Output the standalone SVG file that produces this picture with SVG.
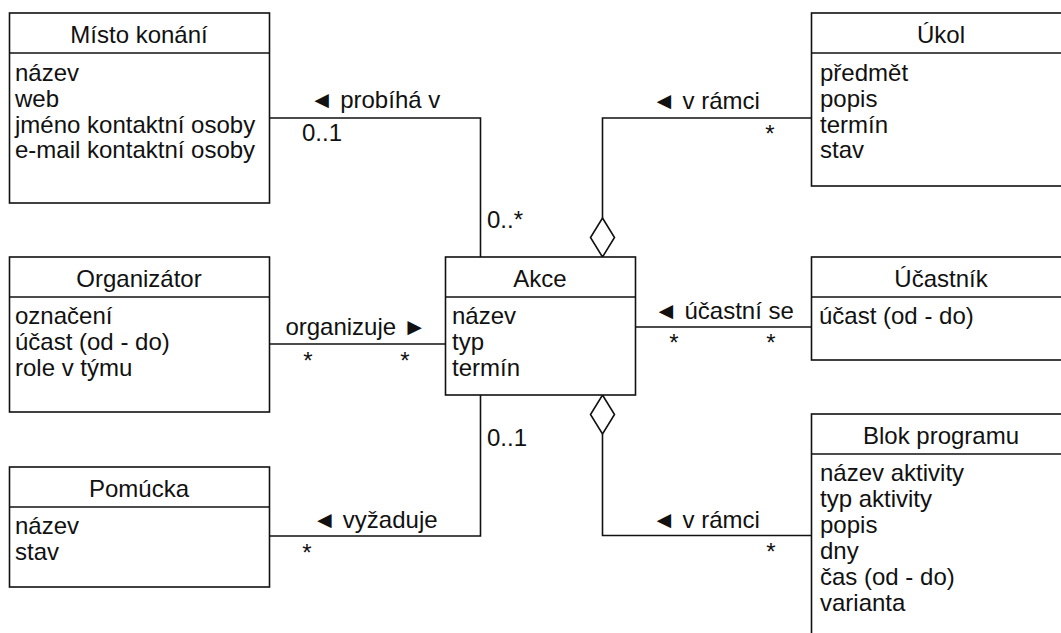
<svg xmlns="http://www.w3.org/2000/svg" width="1061" height="633" viewBox="0 0 1061 633">
<style>
text{font-family:"Liberation Sans",Arial,sans-serif;font-size:24px;fill:#111}
.t{text-anchor:middle}
.box{fill:#fff;stroke:#111;stroke-width:1.6}
.div{stroke:#111;stroke-width:1.6}
.c{fill:none;stroke:#111;stroke-width:1.6}
.dia{fill:#fff;stroke:#111;stroke-width:1.6}
</style>
<g id="connectors">
<path class="c" d="M269.5,118 H480.5 V257"/>
<path class="c" d="M811.5,118 H602.5 V218"/>
<path class="dia" d="M602.5,218 L614.5,237.5 L602.5,257 L590.5,237.5 Z"/>
<path class="c" d="M269.5,344 H445.5"/>
<path class="c" d="M635.5,327 H811.5"/>
<path class="c" d="M602.5,434 V535.5 H811.5"/>
<path class="dia" d="M602.5,395 L614.5,414.5 L602.5,434 L590.5,414.5 Z"/>
<path class="c" d="M269.5,536 H480.5 V395"/>
<text class="t" x="375" y="108">◄ probíhá v</text>
<text x="302" y="141">0..1</text>
<text x="487" y="228">0..*</text>
<text class="t" x="706" y="109">◄ v rámci</text>
<text class="t" x="770" y="142">*</text>
<text class="t" x="356" y="335">organizuje ►</text>
<text class="t" x="308" y="369">*</text>
<text class="t" x="405" y="369">*</text>
<text class="t" x="724" y="319">◄ účastní se</text>
<text class="t" x="674" y="351">*</text>
<text class="t" x="771" y="351">*</text>
<text class="t" x="706" y="528">◄ v rámci</text>
<text class="t" x="771" y="560">*</text>
<text class="t" x="375" y="528">◄ vyžaduje</text>
<text class="t" x="307" y="561">*</text>
<text x="487" y="446">0..1</text>
</g>
<g id="misto">
<rect class="box" x="9.5" y="13" width="260" height="190"/>
<line class="div" x1="9.5" y1="53" x2="269.5" y2="53"/>
<text class="t" x="139" y="43">Místo konání</text>
<text x="15" y="81">název</text>
<text x="15" y="107">web</text>
<text x="15" y="132.5">jméno kontaktní osoby</text>
<text x="15" y="158">e-mail kontaktní osoby</text>
</g>
<g id="ukol">
<rect class="box" x="811.5" y="13" width="260" height="173"/>
<line class="div" x1="811.5" y1="53" x2="1071.5" y2="53"/>
<text class="t" x="941" y="43">Úkol</text>
<text x="820" y="81">předmět</text>
<text x="820" y="107">popis</text>
<text x="820" y="132.5">termín</text>
<text x="820" y="158">stav</text>
</g>
<g id="organizator">
<rect class="box" x="9.5" y="257" width="260" height="155"/>
<line class="div" x1="9.5" y1="297" x2="269.5" y2="297"/>
<text class="t" x="139" y="287">Organizátor</text>
<text x="15" y="324">označení</text>
<text x="15" y="350">účast (od - do)</text>
<text x="15" y="376">role v týmu</text>
</g>
<g id="akce">
<rect class="box" x="445.5" y="257" width="190" height="138"/>
<line class="div" x1="445.5" y1="297" x2="635.5" y2="297"/>
<text class="t" x="540" y="287">Akce</text>
<text x="452" y="324">název</text>
<text x="452" y="350">typ</text>
<text x="452" y="376">termín</text>
</g>
<g id="ucastnik">
<rect class="box" x="811.5" y="257" width="260" height="103"/>
<line class="div" x1="811.5" y1="297" x2="1071.5" y2="297"/>
<text class="t" x="941" y="287">Účastník</text>
<text x="819" y="324">účast (od - do)</text>
</g>
<g id="pomucka">
<rect class="box" x="9.5" y="467" width="260" height="120"/>
<line class="div" x1="9.5" y1="507" x2="269.5" y2="507"/>
<text class="t" x="139" y="497">Pomúcka</text>
<text x="15" y="534">název</text>
<text x="15" y="560">stav</text>
</g>
<g id="blok">
<rect class="box" x="811.5" y="414" width="260" height="240"/>
<line class="div" x1="811.5" y1="454" x2="1071.5" y2="454"/>
<text class="t" x="941" y="444">Blok programu</text>
<text x="820" y="481">název aktivity</text>
<text x="820" y="507">typ aktivity</text>
<text x="820" y="533">popis</text>
<text x="820" y="559">dny</text>
<text x="820" y="585">čas (od - do)</text>
<text x="820" y="611">varianta</text>
</g>
</svg>
